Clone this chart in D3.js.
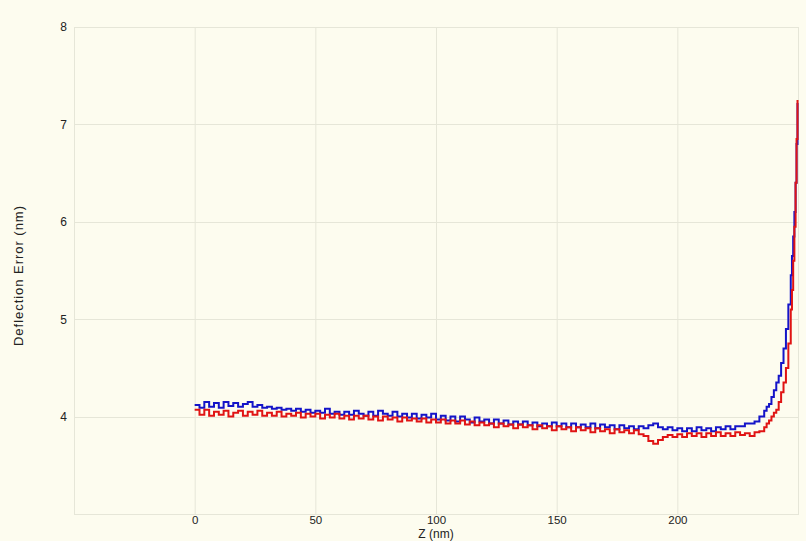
<!DOCTYPE html>
<html><head><meta charset="utf-8">
<script src="https://cdn.jsdelivr.net/npm/d3@7"></script>
<style>
html,body{margin:0;padding:0;background:#fdfcef;}
svg{display:block;}
text{font-family:"Liberation Sans",Arial,sans-serif;fill:#222;}
</style></head><body>
<svg id="c" width="806" height="541"></svg>
<script>
// Z positions (nm)
const zValues = [
  0,2,4,6,8,10,12,14,16,18,
  20,22,24,26,28,30,32,34,36,38,
  40,42,44,46,48,50,52,54,56,58,
  60,62,64,66,68,70,72,74,76,78,
  80,82,84,86,88,90,92,94,96,98,
  100,102,104,106,108,110,112,114,116,118,
  120,122,124,126,128,130,132,134,136,138,
  140,142,144,146,148,150,152,154,156,158,
  160,162,164,166,168,170,172,174,176,178,
  180,182,184,186,188,190,192,194,196,198,
  200,202,204,206,208,210,212,214,216,218,
  220,222,224,226,228,230,
  232,234,236,237,238,239,240,241,242,243,
  244,245,246,247,247.5,248,248.5,249,249.4,249.8
];
// Deflection error, blue (extend) curve
const blueValues = [
  4.12,4.09,4.15,4.10,4.14,4.09,4.15,4.11,4.14,4.10,
  4.13,4.15,4.10,4.12,4.09,4.10,4.08,4.09,4.07,4.08,
  4.06,4.08,4.05,4.07,4.04,4.06,4.04,4.08,4.03,4.05,
  4.02,4.05,4.02,4.06,4.03,4.01,4.05,4.01,4.06,4.03,
  4.01,4.05,4.00,4.03,3.99,4.03,3.98,4.02,3.99,4.03,
  3.97,4.01,3.96,4.00,3.95,4.00,3.97,3.94,3.99,3.95,
  3.97,3.93,3.97,3.93,3.96,3.92,3.95,3.92,3.95,3.91,
  3.94,3.90,3.93,3.90,3.94,3.90,3.93,3.89,3.93,3.89,
  3.92,3.89,3.93,3.88,3.92,3.89,3.91,3.87,3.91,3.88,
  3.90,3.87,3.90,3.88,3.91,3.93,3.89,3.87,3.89,3.86,
  3.88,3.85,3.88,3.85,3.89,3.86,3.88,3.85,3.89,3.87,
  3.90,3.87,3.90,3.90,3.93,3.93,
  3.95,4.00,4.06,4.10,4.13,4.20,4.27,4.35,4.42,4.55,
  4.70,4.90,5.15,5.45,5.65,5.85,6.10,6.40,6.80,7.22
];
// Deflection error, red (retract) curve
const redValues = [
  4.07,4.02,4.07,4.01,4.05,4.02,4.06,4.00,4.04,4.06,
  4.01,4.05,4.02,4.06,4.01,4.04,4.01,4.05,4.00,4.03,
  4.01,4.04,3.99,4.03,4.00,4.03,3.98,4.02,3.99,4.03,
  3.98,4.01,3.97,4.01,3.98,4.01,3.97,4.00,3.96,4.00,
  3.97,3.99,3.95,3.99,3.96,3.98,3.95,3.98,3.94,3.97,
  3.94,3.97,3.93,3.96,3.93,3.96,3.92,3.95,3.91,3.94,
  3.91,3.93,3.89,3.93,3.90,3.92,3.88,3.92,3.89,3.91,
  3.87,3.91,3.88,3.90,3.86,3.90,3.87,3.89,3.85,3.89,
  3.86,3.88,3.84,3.88,3.85,3.87,3.83,3.87,3.84,3.86,
  3.83,3.86,3.82,3.80,3.75,3.72,3.76,3.79,3.81,3.79,
  3.82,3.79,3.83,3.80,3.83,3.79,3.83,3.80,3.84,3.80,
  3.83,3.80,3.84,3.81,3.83,3.80,
  3.84,3.85,3.89,3.93,3.96,4.00,4.04,4.07,4.15,4.25,
  4.35,4.50,4.75,5.10,5.30,5.60,5.95,6.40,6.85,7.25
];
const xTicks = [0,50,100,150,200];
const yTicks = [4,5,6,7,8];
const xDomain = [-50,250];
const yDomain = [3,8];

const svg = d3.select("#c");
const m = {l:74, r:798, t:27, b:514};
const x = d3.scaleLinear().domain(xDomain).range([m.l, m.r]);
const y = d3.scaleLinear().domain(yDomain).range([m.b, m.t]);
const gridCol = "#e6e6d8";

svg.append("rect").attr("width",806).attr("height",541).attr("fill","#fdfcef");

// grid
const g = svg.append("g");
g.selectAll(".vg").data(xTicks).join("line")
  .attr("x1",d=>x(d)+0.5).attr("x2",d=>x(d)+0.5).attr("y1",m.t).attr("y2",m.b)
  .attr("stroke",gridCol).attr("stroke-width",1);
g.selectAll(".hg").data(yTicks).join("line")
  .attr("y1",d=>Math.round(y(d))+0.5).attr("y2",d=>Math.round(y(d))+0.5).attr("x1",m.l).attr("x2",m.r)
  .attr("stroke",gridCol).attr("stroke-width",1);
g.append("rect").attr("x",m.l+0.5).attr("y",m.t+0.5).attr("width",m.r-m.l).attr("height",m.b-m.t)
  .attr("fill","none").attr("stroke",gridCol);

// axes (labels only)
const xAxis = d3.axisBottom(x).tickValues(xTicks).tickSize(0).tickPadding(2).tickFormat(d3.format("d"));
const xa = svg.append("g").attr("transform",`translate(0,${m.b})`).call(xAxis);
xa.select(".domain").remove();
xa.selectAll("text").style("font-size","11.5px").attr("fill","#222");

const yAxis = d3.axisLeft(y).tickValues(yTicks).tickSize(0).tickPadding(7).tickFormat(d3.format("d"));
const ya = svg.append("g").attr("transform",`translate(${m.l},0)`).call(yAxis);
ya.select(".domain").remove();
ya.selectAll("text").style("font-size","12px").attr("fill","#222");

svg.append("text").attr("x",(m.l+m.r)/2).attr("y",538).attr("text-anchor","middle")
  .style("font-size","12px").text("Z (nm)");
svg.append("text").attr("transform",`translate(23,276) rotate(-90)`)
  .attr("text-anchor","middle").style("font-size","13px")
  .attr("textLength",140).attr("lengthAdjust","spacing").text("Deflection Error (nm)");

// lines
const blue = zValues.map((z,i)=>[z,blueValues[i]]);
const red = zValues.map((z,i)=>[z,redValues[i]]);
const line = d3.line().x(d=>x(d[0])).y(d=>y(d[1])).curve(d3.curveStepAfter);
svg.append("path").datum(blue).attr("d",line).attr("fill","none")
  .attr("stroke","#1414c8").attr("stroke-width",2);
svg.append("path").datum(red).attr("d",line).attr("fill","none")
  .attr("stroke","#e01414").attr("stroke-width",2);
</script>
</body></html>
